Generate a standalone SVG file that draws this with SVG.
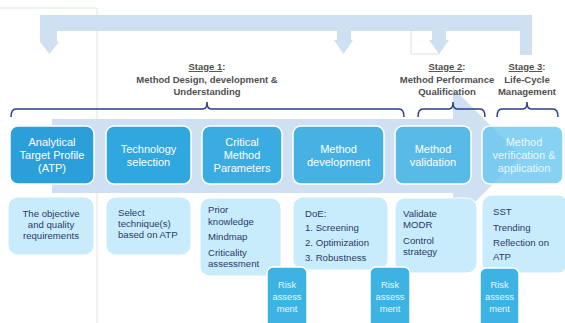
<svg xmlns="http://www.w3.org/2000/svg" width="565" height="323" viewBox="0 0 565 323">
<style>
.node{stroke:#ffffff;stroke-width:1.5}
.nt{font-family:"Liberation Sans",Arial,sans-serif;font-size:11px;fill:#ffffff;text-anchor:middle}
.desc{fill:#c8ecfb;stroke:#ffffff;stroke-width:1}
.dt{font-family:"Liberation Sans",Arial,sans-serif;font-size:9.6px;fill:#2c3a68}
.risk{fill:#3db3e4;stroke:#ffffff;stroke-width:1.5}
.rt{font-family:"Liberation Sans",Arial,sans-serif;font-size:9.3px;fill:#e8f6fd;text-anchor:middle}
.st{font-family:"Liberation Sans",Arial,sans-serif;font-size:9.5px;font-weight:bold;fill:#505050;text-anchor:middle}
.br{fill:none;stroke:#2e3c8a;stroke-width:1.5}
.flow{fill:#cfe0f2}
</style>
<!-- faint page lines -->
<path d="M0,8 H97 V323" fill="none" stroke="#e4e4e4" stroke-width="1"/>
<path d="M411,31 V54 H440" fill="none" stroke="#e0e0e0" stroke-width="1"/>
<g id="connectors">
  <!-- feedback arrow on top -->
  <path class="flow" d="M40,15 H532 V55 H520 V31 H446 V40 H449 L439,54 L429,40 H432 V31 H351 V40 H353 L343.5,54 L334,40 H337 V31 H57 V42 H59 L49.5,54 L40,42 Z"/>
  <!-- big background chevron -->
  <path class="flow" d="M52,119 H453 V88 L521,156 L453,224 V193 H52 Z"/>
</g>
<!-- stage brackets and labels -->
<g id="stage1">
  <path class="br" d="M11,117 Q11,109 16,109 H203 Q207,109 207,102 Q207,109 211,109 H399 Q404,109 404,117"/>
  <text class="st" x="207" y="70"><tspan text-decoration="underline">Stage 1</tspan>:</text>
  <text class="st" x="207" y="83">Method Design, development &amp;</text>
  <text class="st" x="207" y="95">Understanding</text>
</g>
<g id="stage2">
  <path class="br" d="M418,117 Q418,109 423,109 H449 Q453,109 453,102 Q453,109 457,109 H480 Q485,109 485,117"/>
  <text class="st" x="447" y="70"><tspan text-decoration="underline">Stage 2</tspan>:</text>
  <text class="st" x="447" y="83">Method Performance</text>
  <text class="st" x="447" y="95">Qualification</text>
</g>
<g id="stage3">
  <path class="br" d="M497,117 Q497,109 502,109 H523 Q527,109 527,102 Q527,109 531,109 H553 Q558,109 558,117"/>
  <text class="st" x="527" y="70"><tspan text-decoration="underline">Stage 3</tspan>:</text>
  <text class="st" x="527" y="83">Life-Cycle</text>
  <text class="st" x="527" y="95">Management</text>
</g>
<!-- main nodes -->
<g id="atp">
  <rect class="node" x="10" y="126" width="84" height="58" rx="8" fill="#2b9fd9"/>
  <text class="nt" x="52" y="146">Analytical</text>
  <text class="nt" x="52" y="159">Target Profile</text>
  <text class="nt" x="52" y="172">(ATP)</text>
</g>
<g id="technology">
  <rect class="node" x="106" y="126" width="85" height="58" rx="8" fill="#30a7de"/>
  <text class="nt" x="148.5" y="153">Technology</text>
  <text class="nt" x="148.5" y="166">selection</text>
</g>
<g id="cmp">
  <rect class="node" x="202" y="126" width="80" height="58" rx="8" fill="#3aace1"/>
  <text class="nt" x="242" y="146">Critical</text>
  <text class="nt" x="242" y="159">Method</text>
  <text class="nt" x="242" y="172">Parameters</text>
</g>
<g id="development">
  <rect class="node" x="293" y="126" width="91" height="58" rx="8" fill="#46b1e3"/>
  <text class="nt" x="338.5" y="153">Method</text>
  <text class="nt" x="338.5" y="166">development</text>
</g>
<g id="validation">
  <rect class="node" x="395" y="126" width="76" height="58" rx="8" fill="#58bae6"/>
  <text class="nt" x="433" y="153">Method</text>
  <text class="nt" x="433" y="166">validation</text>
</g>
<g id="verification">
  <rect class="node" x="482" y="126" width="81" height="58" rx="8" fill="#5fc3ee" fill-opacity="0.75"/>
  <text class="nt" x="524" y="146" fill-opacity="0.85">Method</text>
  <text class="nt" x="524" y="159" fill-opacity="0.85">verification &amp;</text>
  <text class="nt" x="524" y="172" fill-opacity="0.85">application</text>
</g>
<!-- description boxes -->
<g id="desc-atp">
  <rect class="desc" x="8" y="197" width="86" height="58" rx="10"/>
  <text class="dt" x="51" y="217" text-anchor="middle">The objective</text>
  <text class="dt" x="51" y="228" text-anchor="middle">and quality</text>
  <text class="dt" x="51" y="239" text-anchor="middle">requirements</text>
</g>
<g id="desc-tech">
  <rect class="desc" x="106" y="197" width="85" height="58" rx="10"/>
  <text class="dt" x="118" y="216">Select</text>
  <text class="dt" x="118" y="227">technique(s)</text>
  <text class="dt" x="118" y="238">based on ATP</text>
</g>
<g id="desc-cmp">
  <rect class="desc" x="200" y="198" width="81" height="78" rx="10"/>
  <text class="dt" x="208" y="213">Prior</text>
  <text class="dt" x="208" y="225">knowledge</text>
  <text class="dt" x="208" y="240">Mindmap</text>
  <text class="dt" x="208" y="256">Criticality</text>
  <text class="dt" x="208" y="267">assessment</text>
</g>
<g id="desc-dev">
  <rect class="desc" x="293" y="197" width="95" height="73" rx="10"/>
  <text class="dt" x="305" y="217">DoE:</text>
  <text class="dt" x="305" y="231">1. Screening</text>
  <text class="dt" x="305" y="246">2. Optimization</text>
  <text class="dt" x="305" y="261">3. Robustness</text>
</g>
<g id="desc-val">
  <rect class="desc" x="395" y="198" width="82" height="75" rx="10"/>
  <text class="dt" x="403" y="217">Validate</text>
  <text class="dt" x="403" y="228">MODR</text>
  <text class="dt" x="403" y="244">Control</text>
  <text class="dt" x="403" y="255">strategy</text>
</g>
<g id="desc-ver">
  <rect class="desc" x="482" y="195" width="86" height="78" rx="10"/>
  <text class="dt" x="493" y="215">SST</text>
  <text class="dt" x="493" y="231">Trending</text>
  <text class="dt" x="493" y="246">Reflection on</text>
  <text class="dt" x="493" y="260">ATP</text>
</g>
<!-- risk assessment boxes -->
<g id="risk1">
  <rect class="risk" x="267" y="267" width="40" height="64" rx="6"/>
  <text class="rt" x="287" y="288">Risk</text>
  <text class="rt" x="287" y="300">assess</text>
  <text class="rt" x="287" y="312">ment</text>
</g>
<g id="risk2">
  <rect class="risk" x="370" y="267" width="40" height="64" rx="6"/>
  <text class="rt" x="390" y="288">Risk</text>
  <text class="rt" x="390" y="300">assess</text>
  <text class="rt" x="390" y="312">ment</text>
</g>
<g id="risk3">
  <rect class="risk" x="480" y="268" width="39" height="64" rx="6"/>
  <text class="rt" x="499.5" y="288">Risk</text>
  <text class="rt" x="499.5" y="300">assess</text>
  <text class="rt" x="499.5" y="312">ment</text>
</g>
</svg>
